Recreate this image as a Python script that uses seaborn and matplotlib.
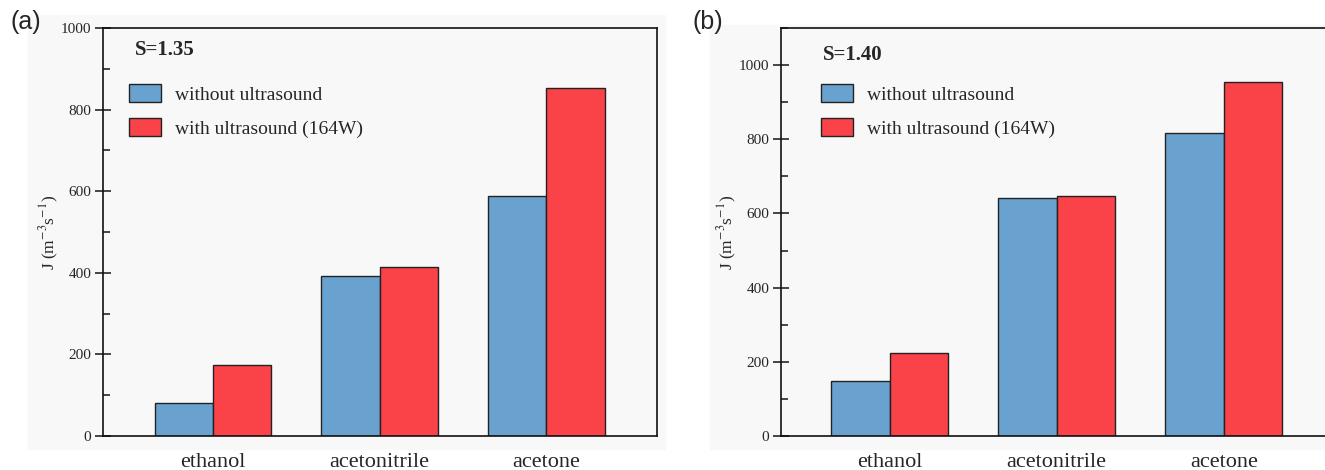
import numpy as np
import pandas as pd
import seaborn as sns
import matplotlib.pyplot as plt
from matplotlib.patches import Rectangle
from matplotlib.ticker import MultipleLocator

# data
solvents = ['ethanol', 'acetonitrile', 'acetone']
conditions = ['without ultrasound', 'with ultrasound (164W)']
j_s135_without = [81, 392, 588]
j_s135_with = [174, 413, 852]
j_s140_without = [148, 641, 816]
j_s140_with = [224, 647, 955]

sns.set_style('ticks')
plt.rcParams['font.family'] = ['Liberation Serif', 'DejaVu Serif']
plt.rcParams['mathtext.fontset'] = 'stix'

colors = ['#6aa2cf', '#fa4249']
bg = '#f8f8f8'


def make_df(without, with_):
    return pd.DataFrame({
        'solvent': solvents * 2,
        'condition': [conditions[0]] * 3 + [conditions[1]] * 3,
        'J': list(without) + list(with_)})


fig = plt.figure(figsize=(13.25, 4.7), dpi=100)

# light grey panels behind each plot
fig.add_artist(Rectangle((28 / 1325, 1 - 449 / 470), 637 / 1325, 434 / 470,
                         transform=fig.transFigure, color=bg, zorder=-1))
fig.add_artist(Rectangle((710 / 1325, 1 - 449 / 470), 615 / 1325, 424 / 470,
                         transform=fig.transFigure, color=bg, zorder=-1))

ax_a = fig.add_axes([103 / 1325, 1 - 436 / 470, 554 / 1325, 408 / 470])
ax_b = fig.add_axes([781 / 1325, 1 - 436 / 470, 558 / 1325, 408 / 470])

panels = [
    (ax_a, make_df(j_s135_without, j_s135_with), 'S=1.35', 1000, (-0.66, 2.665),
     '(a)', 10, (0.058, 0.946), (0.015, 0.905)),
    (ax_b, make_df(j_s140_without, j_s140_with), 'S=1.40', 1100, (-0.65, 2.69),
     '(b)', 693, (0.075, 0.934), (0.04, 0.905)),
]

for ax, df, title, ytop, xlim, tag, tag_x, title_pos, leg_anchor in panels:
    sns.barplot(data=df, x='solvent', y='J', hue='condition', palette=colors,
                width=0.7, edgecolor='#222222', linewidth=1.0, saturation=1,
                ax=ax)
    ax.set_facecolor(bg)
    ax.set_ylim(0, ytop)
    ax.set_xlim(*xlim)
    ax.yaxis.set_major_locator(MultipleLocator(200))
    ax.yaxis.set_minor_locator(MultipleLocator(100))
    ax.tick_params(axis='y', which='major', direction='inout', length=11,
                   width=1.2, labelsize=11, pad=3)
    ax.tick_params(axis='y', which='minor', direction='in', length=5, width=1.2)
    ax.tick_params(axis='x', length=0, labelsize=16, pad=12)
    for sp in ax.spines.values():
        sp.set_linewidth(1.2)
        sp.set_color('#111111')
    ax.set_xlabel('')
    ax.set_ylabel('J (m$^{-3}$s$^{-1}$)', fontsize=12.5, labelpad=0)

    ax.text(*title_pos, title, transform=ax.transAxes, fontsize=15,
            fontweight='bold', va='center', ha='left')
    ax.legend(loc='upper left', bbox_to_anchor=leg_anchor,
              frameon=False, fontsize=14, handlelength=1.65,
              handleheight=1.0, handletextpad=0.7, labelspacing=0.75)

    fig.text(tag_x / 1325, 1 - 22 / 470, tag, fontsize=18, va='center',
             family=['Liberation Sans', 'DejaVu Sans'])

fig.savefig('out.png', dpi=100, facecolor='white')
